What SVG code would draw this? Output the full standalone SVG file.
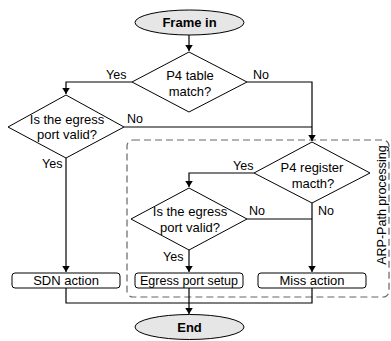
<svg xmlns="http://www.w3.org/2000/svg" width="391" height="341" viewBox="0 0 391 341">
<defs>
<marker id="arr" viewBox="0 0 8 10" refX="8" refY="5" markerWidth="6" markerHeight="7.5" orient="auto" markerUnits="userSpaceOnUse">
<path d="M0,0 L8,5 L0,10 Z" fill="#000"/>
</marker>
<style>
text{font-family:"Liberation Sans",Arial,sans-serif;font-size:12.5px;fill:#000}
.c{text-anchor:middle}
.b{font-weight:bold;font-size:13px}
.d{font-size:13px}
.bx{font-size:13px}
.term{fill:#e6e6e6;stroke:#000;stroke-width:1}
.dec{fill:#fff;stroke:#000;stroke-width:1}
.box{fill:#fff;stroke:#000;stroke-width:1}
.ln{fill:none;stroke:#000;stroke-width:1.2}
.dash{fill:none;stroke:#666;stroke-width:1.2;stroke-dasharray:7,4}
</style>
</defs>
<rect width="391" height="341" fill="#fff"/>
<g id="arp-region">
<rect class="dash" x="127" y="140" width="262" height="157" rx="6"/>
<text class="c" transform="translate(386,205) rotate(-90)">ARP-Path processing</text>
</g>
<g id="connectors">
<path class="ln" d="M189,35 V51" marker-end="url(#arr)"/>
<path class="ln" d="M132,82 H66 V94" marker-end="url(#arr)"/>
<path class="ln" d="M247,82 H312 V141" marker-end="url(#arr)"/>
<path class="ln" d="M124,127 H312"/>
<path class="ln" d="M66,158 V272" marker-end="url(#arr)"/>
<path class="ln" d="M254,173 H189 V187" marker-end="url(#arr)"/>
<path class="ln" d="M247,219 H312"/>
<path class="ln" d="M312,203 V272" marker-end="url(#arr)"/>
<path class="ln" d="M189,250 V272" marker-end="url(#arr)"/>
<path class="ln" d="M66,288 V303 H312 V288"/>
<path class="ln" d="M189,288 V314" marker-end="url(#arr)"/>
<text x="106" y="79">Yes</text>
<text x="253" y="79">No</text>
<text x="127" y="123">No</text>
<text x="42" y="168">Yes</text>
<text x="233" y="170">Yes</text>
<text x="249" y="215">No</text>
<text x="318" y="215">No</text>
<text x="163" y="261">Yes</text>
</g>
<g id="frame-in">
<ellipse class="term" cx="189.5" cy="22.5" rx="54.5" ry="12.5"/>
<text class="c b" x="189.5" y="27">Frame in</text>
</g>
<g id="p4-table">
<polygon class="dec" points="189,52 247,82 189,112 132,82"/>
<text class="c d" x="190" y="80">P4 table</text>
<text class="c d" x="190" y="95.5">match?</text>
</g>
<g id="egress-valid-1">
<polygon class="dec" points="66,95 124,127 66,158 8,127"/>
<text class="c d" x="67" y="123.5">Is the egress</text>
<text class="c d" x="67" y="139">port valid?</text>
</g>
<g id="p4-register">
<polygon class="dec" points="312,142 370,173 312,203 254,173"/>
<text class="c d" x="312" y="172">P4 register</text>
<text class="c d" x="313" y="187.5">macth?</text>
</g>
<g id="egress-valid-2">
<polygon class="dec" points="189,188 247,219 189,250 131,219"/>
<text class="c d" x="190" y="216">Is the egress</text>
<text class="c d" x="190" y="232">port valid?</text>
</g>
<g id="sdn-action">
<rect class="box" x="12" y="273" width="108" height="15" rx="3"/>
<text class="c bx" x="66" y="285">SDN action</text>
</g>
<g id="egress-setup">
<rect class="box" x="135" y="273" width="108" height="15" rx="3"/>
<text class="c" x="189" y="285">Egress port setup</text>
</g>
<g id="miss-action">
<rect class="box" x="258" y="273" width="108" height="15" rx="3"/>
<text class="c bx" x="312" y="285">Miss action</text>
</g>
<g id="end">
<ellipse class="term" cx="189.5" cy="327" rx="54.5" ry="12.5"/>
<text class="c b" x="189.5" y="331.5">End</text>
</g>
</svg>
